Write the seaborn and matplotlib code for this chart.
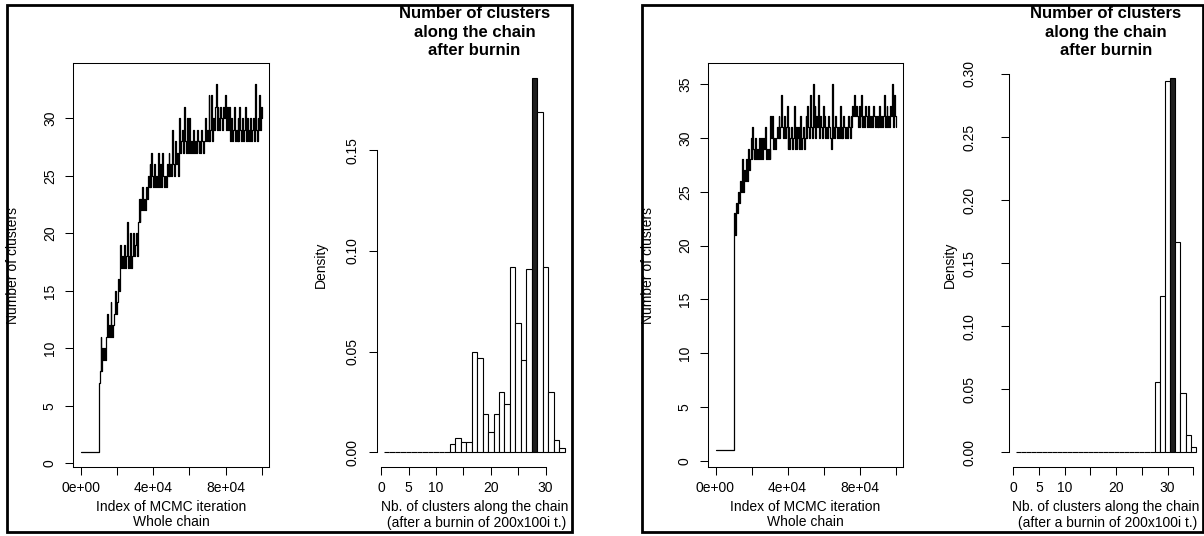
import numpy as np
import pandas as pd
import matplotlib
matplotlib.use('Agg')
import matplotlib.pyplot as plt
import seaborn as sns
from matplotlib.patches import Rectangle

# ---------------------------------------------------------------------
# Data
# ---------------------------------------------------------------------
# MCMC chains: number of clusters, one reading every 500 iterations
step = 500
chain1 = [1, 1, 1, 1, 1, 1, 1, 1, 1, 1, 1, 1, 1, 1, 1, 1, 1, 1, 1, 1,
          7, 8, 11, 8, 10, 9, 10, 9, 11, 13,
          11, 12, 11, 14, 12, 11, 12, 13, 15, 13,
          14, 16, 15, 17, 19, 17, 18, 17, 19, 17,
          18, 21, 17, 18, 17, 20, 17, 18, 20, 18,
          19, 20, 18, 21, 23, 21, 23, 22, 24, 22,
          23, 22, 24, 23, 25, 24, 26, 24, 27, 25,
          24, 26, 24, 25, 24, 27, 24, 25, 26, 24,
          27, 25, 24, 25, 24, 26, 25, 27, 25, 26,
          25, 29, 26, 25, 28, 26, 27, 25, 28, 30,
          27, 28, 29, 27, 31, 28, 27, 30, 27, 28,
          30, 27, 28, 27, 29, 27, 28, 27, 29, 28,
          27, 28, 27, 29, 28, 27, 28, 30, 28, 29,
          28, 32, 28, 29, 32, 28, 30, 29, 31, 33,
          29, 31, 30, 29, 31, 30, 29, 31, 30, 32,
          29, 31, 30, 29, 31, 28, 30, 28, 29, 31,
          28, 29, 28, 30, 28, 31, 29, 28, 30, 28,
          29, 31, 28, 30, 28, 29, 28, 30, 28, 29,
          30, 28, 33, 29, 28, 30, 29, 32, 29, 31,
          30]
chain2 = [1, 1, 1, 1, 1, 1, 1, 1, 1, 1, 1, 1, 1, 1, 1, 1, 1, 1, 1, 1,
          20, 23, 21, 24, 23, 25, 24, 26, 25, 28,
          26, 25, 27, 26, 28, 26, 29, 27, 28, 30,
          28, 31, 29, 28, 30, 28, 29, 28, 30, 28,
          29, 30, 28, 30, 29, 31, 28, 29, 28, 29,
          28, 32, 30, 32, 29, 30, 29, 30, 31, 30,
          32, 30, 31, 34, 31, 30, 32, 30, 31, 33,
          29, 31, 29, 30, 31, 29, 30, 33, 29, 31,
          29, 30, 31, 29, 32, 29, 30, 31, 29, 30,
          32, 30, 33, 31, 30, 34, 31, 30, 35, 31,
          33, 30, 32, 31, 34, 30, 32, 31, 30, 33,
          31, 32, 30, 31, 30, 32, 31, 30, 29, 35,
          30, 31, 30, 32, 31, 30, 31, 30, 33, 30,
          31, 30, 32, 31, 30, 31, 30, 32, 31, 30,
          32, 31, 33, 32, 34, 32, 33, 32, 31, 33,
          31, 32, 34, 31, 32, 31, 33, 32, 31, 33,
          31, 32, 31, 32, 31, 33, 32, 31, 32, 31,
          32, 31, 33, 31, 32, 31, 32, 34, 31, 32,
          33, 31, 32, 31, 33, 32, 35, 31, 34, 32,
          31]

# histogram densities after burnin (one bar per number of clusters)
clusters1 = np.arange(1, 34)
density1 = [0, 0, 0, 0, 0, 0, 0, 0, 0, 0, 0, 0,
            0.004, 0.007, 0.005, 0.005, 0.050, 0.047, 0.019, 0.010, 0.019,
            0.030, 0.024, 0.092, 0.064, 0.046, 0.091, 0.186, 0.169, 0.092,
            0.030, 0.006, 0.002]
clusters2 = np.arange(1, 36)
density2 = [0, 0, 0, 0, 0, 0, 0, 0, 0, 0, 0, 0, 0, 0, 0, 0, 0, 0, 0, 0,
            0, 0, 0, 0, 0, 0, 0,
            0.056, 0.124, 0.294, 0.297, 0.167, 0.047, 0.014, 0.004]

# ticks
trace_xticks = [0, 20000, 40000, 60000, 80000, 100000]
trace_xlabels = ['0e+00', '', '4e+04', '', '8e+04', '']
trace1_yticks = [0, 5, 10, 15, 20, 25, 30]
trace2_yticks = [0, 5, 10, 15, 20, 25, 30, 35]
hist1_xticks = [0, 5, 10, 15, 20, 25, 30]
hist1_xlabels = ['0', '5', '10', '', '20', '', '30']
hist2_xticks = [0, 5, 10, 15, 20, 25, 30, 35]
hist2_xlabels = ['0', '5', '10', '', '20', '', '30', '']
hist1_yticks = [0.00, 0.05, 0.10, 0.15]
hist2_yticks = [0.00, 0.05, 0.10, 0.15, 0.20, 0.25, 0.30]

title_lines = ['Number of clusters', 'along the chain', 'after burnin']
trace_xlab = ['Index of MCMC iteration', 'Whole chain']
hist_xlab = ['Nb. of clusters along the chain', ' (after a burnin of 200x100i t.)']

# ---------------------------------------------------------------------
sns.set_theme(style='ticks', rc={'axes.edgecolor': 'black', 'xtick.color': 'black',
                                 'ytick.color': 'black', 'text.color': 'black',
                                 'axes.linewidth': 0.75})
plt.rcParams['font.family'] = ['Liberation Sans', 'DejaVu Sans']

W, H = 1204, 536
fig = plt.figure(figsize=(W / 100, H / 100), dpi=100)


def box(l, t, r, b):
    return [l / W, 1 - b / H, (r - l) / W, (b - t) / H]


def ftext(x, y, s, **kw):
    fig.text(x / W, 1 - y / H, s, ha='center', va='center', **kw)


def trace_panel(rect, chain, yticks, ylim):
    ax = fig.add_axes(box(*rect))
    df = pd.DataFrame({'iteration': np.arange(len(chain)) * step, 'clusters': chain})
    sns.lineplot(data=df, x='iteration', y='clusters', ax=ax, color='black',
                 lw=0.9, drawstyle='steps-post', estimator=None)
    ax.set_xlim(-4000, 104000)
    ax.set_ylim(*ylim)
    ax.set_xlabel('')
    ax.set_ylabel('')
    ax.set_xticks(trace_xticks)
    ax.set_xticklabels(trace_xlabels)
    ax.set_yticks(yticks)
    ax.set_yticklabels([str(v) for v in yticks], rotation=90, va='center')
    ax.tick_params(axis='both', length=5.5, width=0.75, labelsize=10)
    ax.tick_params(axis='x', pad=4.5)
    ax.tick_params(axis='y', pad=6.3)
    return ax


def hist_panel(rect, clusters, density, xticks, xlabels, yticks, ypad):
    ax = fig.add_axes(box(*rect))
    sns.histplot(x=clusters, weights=density, discrete=True, ax=ax,
                 color='white', edgecolor='black', linewidth=0.8, alpha=1)
    ax.patches[int(np.argmax(density))].set_facecolor('#1e1e1e')
    span = len(clusters)
    ax.set_xlim(0.5 - 0.04 * span, clusters[-1] + 0.5 + 0.04 * span)
    top = max(density)
    ax.set_ylim(-0.04 * top, 1.04 * top)
    ax.set_xlabel('')
    ax.set_ylabel('')
    ax.set_xticks(xticks)
    ax.set_xticklabels(xlabels)
    ax.set_yticks(yticks)
    ax.set_yticklabels(['%.2f' % v for v in yticks], rotation=90, va='center')
    sns.despine(ax=ax)
    ax.spines['bottom'].set_bounds(xticks[0], xticks[-1])
    ax.spines['left'].set_bounds(yticks[0], yticks[-1])
    ax.tick_params(axis='both', length=5.5, width=0.75, labelsize=10)
    ax.tick_params(axis='x', pad=4.5)
    ax.tick_params(axis='y', pad=ypad)
    return ax


# left panel
trace_panel((73.3, 62.7, 269.3, 467.3), chain1, trace1_yticks, (-0.35, 34.85))
hist_panel((376.7, 62.7, 572, 467.3), clusters1, density1,
           hist1_xticks, hist1_xlabels, hist1_yticks, 6.7)
# right panel
trace_panel((708.3, 62.7, 902.7, 467.3), chain2, trace2_yticks, (-0.58, 36.98))
hist_panel((1008.7, 62.7, 1203, 467.3), clusters2, density2,
           hist2_xticks, hist2_xlabels, hist2_yticks, 18)

# axis labels and titles
for tx, hx, ty_x, hy_x in [(171.3, 474.4, 13.5, 320.7), (805.5, 1105.9, 648.5, 950)]:
    ftext(ty_x, 265, 'Number of clusters', rotation=90, fontsize=10)
    ftext(hy_x, 265, 'Density', rotation=90, fontsize=10)
    ftext(tx, 507, trace_xlab[0], fontsize=10)
    ftext(tx, 522.5, trace_xlab[1], fontsize=10)
    ftext(hx, 507, hist_xlab[0], fontsize=10)
    ftext(hx, 522.5, hist_xlab[1], fontsize=10)
    for y, line in zip([13.5, 32, 50.5], title_lines):
        ftext(hx, y, line, fontsize=12, fontweight='bold')

# panel frames
for l, r in [(6.7, 572), (641.7, 1202.5)]:
    fig.add_artist(Rectangle((l / W, 1 - 531.7 / H), (r - l) / W, (531.7 - 5) / H,
                             transform=fig.transFigure, fill=False, lw=2, ec='black'))

fig.savefig('out.png', dpi=100)
